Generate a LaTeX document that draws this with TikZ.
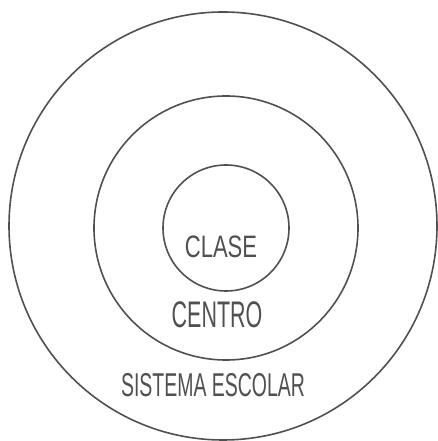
\documentclass[tikz,border=0pt]{standalone}
\usepackage{fontspec}
\setmainfont{Liberation Sans}
\definecolor{pencil}{RGB}{80,80,80}
\tikzset{ring/.style={draw=pencil,line width=1.6pt},
  lettering/.style={text=pencil,inner sep=0pt}}
\begin{document}
\begin{tikzpicture}[x=1pt,y=1pt]
\useasboundingbox (0,0) rectangle (438,441);
\draw[ring] (223,215) circle (214);
\draw[ring] (226,213) circle (132);
\draw[ring] (226,213) circle (63);
\node[lettering,xscale=0.71] (clase) at (221,194)
  {\fontsize{31}{31}\selectfont CLASE};
\node[lettering,xscale=0.58] (centro) at (217,126)
  {\fontsize{37}{37}\selectfont CENTRO};
\node[lettering,xscale=0.59] (sistema) at (213,56)
  {\fontsize{33}{33}\selectfont SISTEMA ESCOLAR};
\end{tikzpicture}
\end{document}
